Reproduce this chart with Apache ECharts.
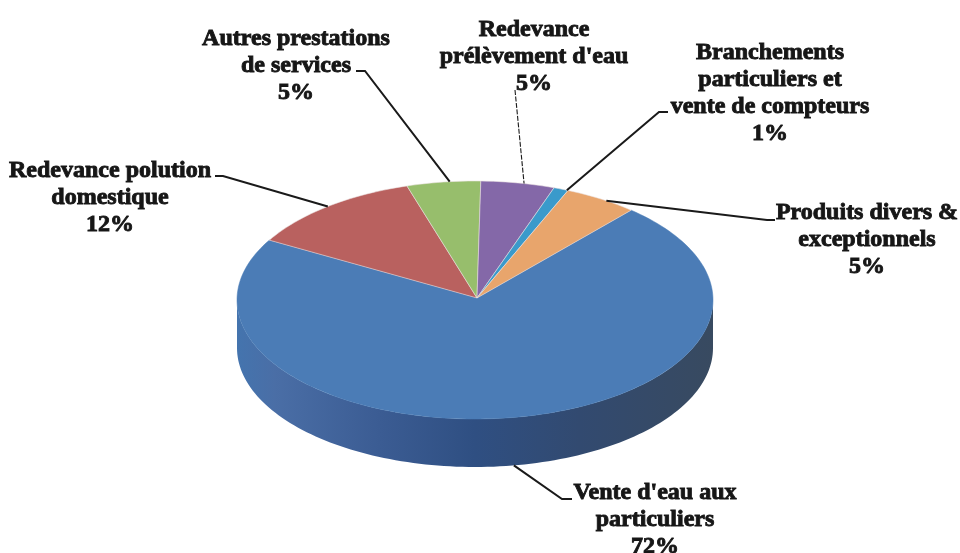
<!DOCTYPE html>
<html><head><meta charset="utf-8">
<script src="https://cdn.jsdelivr.net/npm/echarts@6/dist/echarts.min.js"></script>
<style>html,body{margin:0;background:#fff}#c{width:960px;height:553px}</style>
</head><body><div id="c"></div>
<script>
const categories = ["Vente d'eau aux\nparticuliers","Redevance polution\ndomestique","Autres prestations\nde services","Redevance\nprélèvement d'eau","Branchements\nparticuliers et\nvente de compteurs","Produits divers &\nexceptionnels"];
const values = [72,12,5,5,1,5];
const colors = ['#4b7cb6','#b9615f','#97be6c','#8468a8','#3a9acb','#e8a56c'];
// label layout: centre x, first-line y, leader start (x,y), elbow (x,y)
const labelLayout = [
 [655,492, 572,499, 562,499],
 [110,170, 215,176, 223,176],
 [296,38,  356,71,  365,71],
 [534,29,  515,90,  515,90],
 [770,52,  668,112, 659,112],
 [867,212, 775,220, 767,220]
];
const geo = {cx:475, cy:300, rx:238, ry:119, depth:48, apexY:298, start:41};
const total = values.reduce((a,b)=>a+b,0);
const rad = d => d*Math.PI/180;
const pt = (a,dy=0) => [geo.cx+Math.sin(rad(a))*geo.rx, geo.cy-Math.cos(rad(a))*geo.ry+dy];
const arc = (a0,a1,dy=0) => { const n=Math.max(2,Math.ceil((a1-a0)/1.5)); const o=[]; for(let i=0;i<=n;i++) o.push(pt(a0+(a1-a0)*i/n,dy)); return o; };
const wallFill = new echarts.graphic.LinearGradient(0,0,1,0,[
 {offset:0,color:'#4474ae'},{offset:.08,color:'#4a6ea6'},{offset:.3,color:'#3b5c93'},
 {offset:.5,color:'#2f4f82'},{offset:.72,color:'#324a70'},{offset:1,color:'#384a60'}]);
function renderItem(params, api){
  const i = params.dataIndex;
  let a0 = geo.start; for(let k=0;k<i;k++) a0 += values[k]/total*360;
  const a1 = a0 + api.value(0)/total*360, mid=(a0+a1)/2;
  const children = [];
  // outer wall: only the front half of the rim shows
  for(const off of [0,360]){
    const w0=Math.max(a0,90+off), w1=Math.min(a1,270+off);
    if(w1>w0){
      children.push({type:'polygon',z2:1,shape:{points:arc(w0,w1,0).concat(arc(w0,w1,geo.depth).reverse())},style:{fill:wallFill}});
    }
  }
  // top face
  children.push({type:'polygon',z2:2+(i===0?0:1),shape:{points:[[geo.cx+2,geo.apexY]].concat(arc(a0,a1))},
    style:{fill:colors[i],stroke:i===0?'#4b7cb6':'rgba(235,225,225,.55)',lineWidth:i===0?0.5:1}});
  // leader line
  const L = labelLayout[i];
  const isFront = ((mid%360)>90 && (mid%360)<270);
  const anchor = pt(mid+(i>=2?1.5:0), isFront?geo.depth:0);
  children.push({type:'polyline',z2:6,shape:{points:[[L[2],L[3]],[L[4],L[5]],anchor]},
    style:{fill:null,stroke:'#1a1a1a',lineWidth:i===3?1.1:2,lineDash:i===3?[5,1.5]:null}});
  // label
  children.push({type:'text',z2:7,x:L[0],y:L[1]-13,style:{text:categories[i]+'\n'+Math.round(api.value(0)/total*100)+'%',
    font:'bold 24px "Liberation Serif", serif',fill:'#161616',stroke:'#161616',lineWidth:0.9,align:'center',verticalAlign:'top',lineHeight:27}});
  return {type:'group',children};
}
const chart = echarts.init(document.getElementById('c'),null,{renderer:'canvas'});
chart.setOption({
  animation:false,backgroundColor:'#fff',
  series:[{type:'custom',coordinateSystem:'none',silent:true,renderItem,
    data:values.map((v,i)=>({value:[v],name:categories[i]}))}]
});
</script></body></html>
